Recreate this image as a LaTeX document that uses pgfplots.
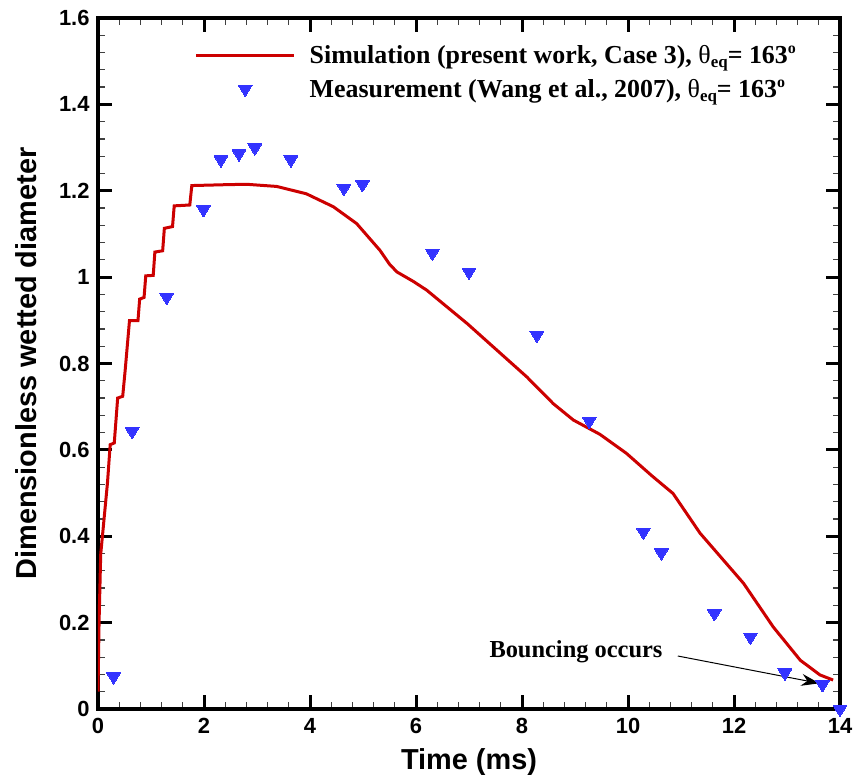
\documentclass[border=0pt]{standalone}
\usepackage{pgfplots}
\pgfplotsset{compat=1.18}
\usetikzlibrary{arrows.meta}
\usepackage{fontspec}
\setmainfont{Liberation Serif}
\newfontfamily\arial{Liberation Sans}
\definecolor{simred}{RGB}{204,0,0}
\definecolor{meablue}{RGB}{51,51,255}
\pgfplotsset{
  lineleg/.style={legend image code/.code={\draw[##1] (0bp,0bp) -- (98bp,0bp);}},
  markleg/.style={legend image code/.code={\draw[mark repeat=2,mark phase=2,##1] plot coordinates {(0bp,0bp) (49bp,0bp) (98bp,0bp)};}},
}
\begin{document}
\begin{tikzpicture}
\useasboundingbox (-98bp,-73bp) rectangle (759bp,709bp);
\begin{axis}[
  scale only axis, width=742bp, height=691bp,
  xmin=0, xmax=14, ymin=0, ymax=1.6,
  xtick={0,2,4,6,8,10,12,14},
  ytick={0,0.2,0.4,0.6,0.8,1,1.2,1.4,1.6},
  minor x tick num=4, minor y tick num=4,
  major tick length=14bp, minor tick length=7bp,
  major tick style={line width=3bp, black},
  minor tick style={line width=1.2bp, black!75},
  axis line style={line width=3.5bp},
  tick label style={font=\arial\bfseries\fontsize{22}{22}\selectfont},
  xticklabel style={yshift=-6bp},
  yticklabel style={xshift=-5bp},
  /pgf/number format/assume math mode=true,
  xlabel={Time (ms)}, ylabel={Dimensionless wetted diameter},
  label style={font=\arial\bfseries\fontsize{29}{29}\selectfont},
  xlabel style={at={(axis description cs:0.5,0)}, anchor=center, yshift=-53bp},
  ylabel style={at={(axis description cs:-0.0970,0.5)}, anchor=center},
  legend cell align=left,
  legend style={draw=none, fill=none, inner sep=0pt,
    at={(axis description cs:0.13,0.9634)}, anchor=north west,
    font=\bfseries\fontsize{26}{30}\selectfont,
    nodes={inner sep=2bp},
    row sep=10bp,
    /tikz/every odd column/.append style={column sep=12bp}},
]
\addplot[simred, line width=3bp, lineleg]
coordinates {
(0.0,0.04) (0.02,0.2) (0.051,0.358) (0.179,0.524) (0.23,0.612) (0.307,0.616)
(0.371,0.72) (0.466,0.724) (0.511,0.782) (0.594,0.899) (0.754,0.899)
(0.786,0.949) (0.869,0.953) (0.901,1.003) (1.042,1.004) (1.073,1.058)
(1.22,1.061) (1.252,1.113) (1.406,1.117) (1.438,1.165) (1.732,1.167)
(1.77,1.212) (2.4,1.214) (2.8,1.215) (3.37,1.21) (3.93,1.193) (4.44,1.163)
(4.88,1.124) (5.32,1.062) (5.5,1.03) (5.64,1.012) (5.95,0.99) (6.2,0.97)
(6.97,0.892) (8.09,0.769) (8.59,0.707) (8.97,0.669) (9.47,0.636)
(9.97,0.592) (10.45,0.54) (10.85,0.499) (11.36,0.407) (12.18,0.291)
(12.74,0.19) (13.25,0.113) (13.62,0.079) (13.87,0.067)
};
\addlegendentry{Simulation (present work, Case 3), {\mdseries θ}\raisebox{-0.35ex}{\fontsize{17}{17}\selectfont eq}= 163\raisebox{0.85ex}{\fontsize{16}{16}\selectfont o}}
\addplot[only marks, mark=triangle*, mark size=8bp,
  mark options={rotate=180, yscale=0.95, fill=meablue, draw=meablue, line width=0pt},
  markleg]
coordinates {
(0.294,0.075) (0.645,0.643) (1.297,0.954) (1.99,1.157) (2.32,1.272)
(2.66,1.286) (2.96,1.30) (3.64,1.272) (4.64,1.206)
(4.99,1.215) (6.31,1.056) (7.0,1.012) (8.28,0.866) (9.27,0.667)
(10.29,0.410) (10.63,0.362) (11.63,0.2215) (12.31,0.167) (12.96,0.084)
(13.67,0.057) (14.0,0.0)
};
\addlegendentry{Measurement (Wang et al., 2007), {\mdseries θ}\raisebox{-0.35ex}{\fontsize{17}{17}\selectfont eq}= 163\raisebox{0.85ex}{\fontsize{16}{16}\selectfont o}}
\node[anchor=base west, inner sep=0pt, font=\bfseries\fontsize{24.5}{24.5}\selectfont] at (axis cs:7.383,0.1197) {Bouncing occurs};
\draw[line width=1bp, -{Stealth[length=18bp,width=12bp]}] (axis cs:10.94,0.1227) -- (axis cs:13.61,0.0595);
\end{axis}
\end{tikzpicture}
\end{document}
